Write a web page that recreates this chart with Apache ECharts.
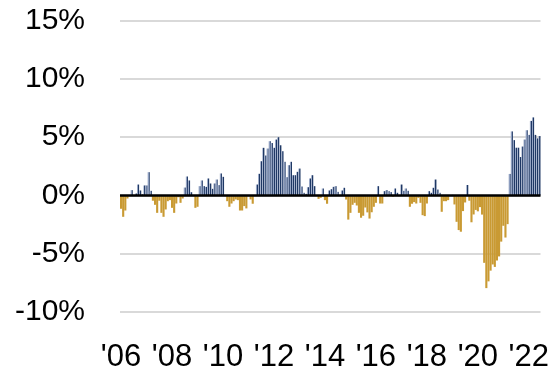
<!DOCTYPE html>
<html><head><meta charset="utf-8">
<script src="https://cdn.jsdelivr.net/npm/echarts@6/dist/echarts.min.js"></script>
<style>html,body{margin:0;padding:0;background:#fff}#c{width:552px;height:374px}</style>
</head><body><div id="c"></div>
<script>
// Monthly categories, Jan 2006 .. Jun 2022
const startYear = 2006;
const monthCount = 198;
const categories = [];
for (let i = 0; i < monthCount; i++) {
  const y = startYear + Math.floor(i / 12);
  const m = (i % 12) + 1;
  categories.push(y + '-' + String(m).padStart(2, '0'));
}
// Tick labels (January of even years)
const tickCategories = ['2006-01','2008-01','2010-01','2012-01','2014-01','2016-01','2018-01','2020-01','2022-01'];
const tickLabels = ["'06","'08","'10","'12","'14","'16","'18","'20","'22"];
// y-axis ticks (%)
const yMin = -10, yMax = 15, yStep = 5;

// Monthly values (%)
const values2006_2009 = [
  -1.14,-1.83,-1.29,-0.26,0,0.46,0,0.17,0.94,0.43,0.09,0.86,
  0.86,2.0,0.4,-0.45,-0.8,-1.49,-0.45,-1.49,-1.83,-1.2,-0.49,-0.4,
  -1.06,-1.49,-0.69,-0.15,-0.63,-0.26,0.68,1.63,1.29,0.28,0,-1.06,
  -0.97,0.8,1.29,0.8,0.74,1.46,1.03,0.57,1.03,1.37,0.89,1.89
];
const values2010_2013 = [
  1.6,0,-0.49,-0.97,-0.69,-0.49,-0.34,-0.4,-1.29,-1.29,-0.91,-1.11,
  0,-0.34,-0.71,0,0.94,1.86,2.94,4.09,3.43,4.03,4.66,4.5,
  4.09,4.8,5.0,4.31,3.8,2.89,1.57,2.6,2.89,1.74,1.74,2.03,
  2.31,0.77,0.23,0.14,0.71,1.46,1.74,0.8,0,-0.29,-0.2,0.6
];
const values2014_2017 = [
  -0.4,-0.71,0.43,0.54,0.74,0.8,0.31,0.05,0.43,0.66,-0.35,-2.07,
  -1.49,-0.8,-0.63,-0.86,-1.49,-1.91,-1.74,-1.03,-1.45,-1.98,-1.44,-0.97,
  -0.63,0.8,-0.69,-0.69,0.37,0.46,0.37,0.29,-0.1,0.6,0.23,-0.05,
  0.94,0.4,0.6,0.4,-0.97,-0.71,-0.57,-0.69,-0.2,-0.63,-1.69,-1.77
];
const values2018_2022 = [
  -0.69,0.37,0.23,0.66,1.37,0.51,0.23,-1.4,-0.49,-0.49,-0.4,0,
  0.05,-0.77,-2.26,-2.97,-3.11,-1.34,-0.6,0.9,-0.45,-2.3,-1.63,-1.24,
  -1.36,-1.0,-1.64,-5.78,-7.95,-7.37,-6.45,-5.92,-6.13,-5.58,-5.23,-3.96,
  -2.6,-3.61,-2.46,1.85,5.5,4.75,4.1,4.1,3.3,4.2,4.8,5.6,
  5.2,6.4,6.7,5.2,4.9,5.1
];
const values = [].concat(values2006_2009, values2010_2013, values2014_2017, values2018_2022);

const posColor = new echarts.graphic.LinearGradient(0, 0, 1, 0, [
  {offset: 0, color: '#a3b0cb'}, {offset: 0.45, color: '#8a9bbd'},
  {offset: 0.55, color: '#1f3864'}, {offset: 1, color: '#1f3864'}
]);
const negColor = '#c99a33';

const font = '"Liberation Sans", Arial, sans-serif';

const chart = echarts.init(document.getElementById('c'), null, {renderer: 'canvas'});
chart.setOption({
  animation: false,
  backgroundColor: '#fff',
  grid: {left: 120, right: 7, top: 20.7, bottom: 62, containLabel: false},
  xAxis: {
    type: 'category',
    data: categories,
    boundaryGap: true,
    axisLine: {show: false, onZero: false},
    axisTick: {show: false},
    splitLine: {show: false},
    axisLabel: {
      interval: function (idx, val) { return tickCategories.indexOf(val) >= 0; },
      formatter: function (val) { const k = tickCategories.indexOf(val); return k >= 0 ? tickLabels[k] : ''; },
      fontFamily: font, fontSize: 31, color: '#000', margin: 30
    }
  },
  yAxis: {
    type: 'value', min: yMin, max: yMax, interval: yStep,
    axisLine: {show: false}, axisTick: {show: false},
    splitLine: {show: true, lineStyle: {color: '#d9d9d9', width: 2}},
    axisLabel: {formatter: function (v) { return v + '%'; }, fontFamily: font, fontSize: 30, color: '#000', margin: 35}
  },
  series: [{
    type: 'bar',
    barCategoryGap: '0%',
    data: values.map(function (v) { return {value: v, itemStyle: {color: v >= 0 ? posColor : negColor}}; }),
    markLine: {
      silent: true, symbol: 'none', label: {show: false},
      lineStyle: {color: '#000', width: 2.5, type: 'solid'},
      data: [{yAxis: 0}]
    }
  }]
});
</script>
</body></html>
